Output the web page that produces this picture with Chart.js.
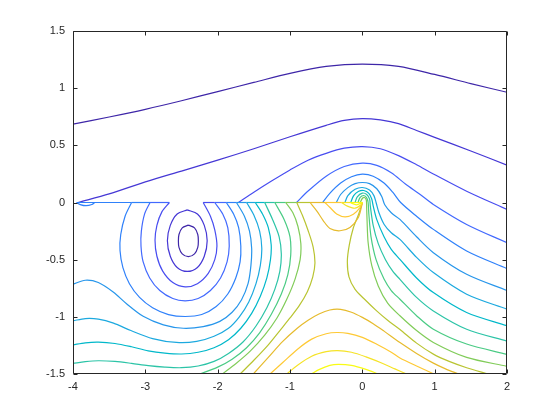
<!DOCTYPE html>
<html>
<head>
<meta charset="utf-8">
<script src="https://cdn.jsdelivr.net/npm/chart.js@4.4.1/dist/chart.umd.min.js"></script>
<style>
  html, body { margin: 0; padding: 0; background: #fff; }
</style>
</head>
<body>
<canvas id="contourChart" width="560" height="420"></canvas>
<script>
// axis ticks
const xTicks = [-4, -3, -2, -1, 0, 1, 2];
const xTickLabels = ["-4", "-3", "-2", "-1", "0", "1", "2"];
const yTicks = [-1.5, -1, -0.5, 0, 0.5, 1, 1.5];
const yTickLabels = ["-1.5", "-1", "-0.5", "0", "0.5", "1", "1.5"];

// contour lines, [x, y] pairs, one array per line
// level 1 (darkest) ... level 16 (yellow)
const arch1 = [[-4,0.686],[-3.5,0.748],[-3,0.815],[-2.5,0.89],[-2,0.97],[-1.5,1.05],[-1,1.13],[-0.5,1.19],[0,1.211],[0.5,1.19],[1,1.12],[1.5,1.04],[2,0.964]];
const ring1 = [[-2.405,-0.198],[-2.32,-0.222],[-2.275,-0.28],[-2.267,-0.336],[-2.275,-0.392],[-2.32,-0.45],[-2.405,-0.474],[-2.49,-0.45],[-2.535,-0.392],[-2.543,-0.336],[-2.535,-0.28],[-2.49,-0.222],[-2.405,-0.198]];

const arch2 = [[-3.93,0],[-3.5,0.075],[-3,0.18],[-2.5,0.275],[-2,0.37],[-1.5,0.47],[-1,0.575],[-0.5,0.675],[-0.25,0.718],[0,0.734],[0.25,0.722],[0.5,0.69],[0.75,0.63],[1,0.57],[1.5,0.45],[2,0.327]];
const ring2 = [[-2.42,-0.065],[-2.28,-0.1],[-2.185,-0.2],[-2.145,-0.334],[-2.185,-0.47],[-2.28,-0.568],[-2.42,-0.603],[-2.56,-0.568],[-2.655,-0.47],[-2.695,-0.334],[-2.655,-0.2],[-2.56,-0.1],[-2.42,-0.065]];

const arch3 = [[-1.714,0],[-1.5,0.09],[-1.25,0.19],[-1,0.285],[-0.75,0.37],[-0.5,0.43],[-0.25,0.475],[0,0.489],[0.25,0.47],[0.5,0.41],[0.75,0.33],[0.982,0.25],[1.442,0.099],[2,-0.061]];
const ring3 = [[-2.668,0],[-2.77,-0.08],[-2.84,-0.2],[-2.866,-0.33],[-2.84,-0.47],[-2.76,-0.6],[-2.62,-0.7],[-2.45,-0.738],[-2.28,-0.71],[-2.13,-0.62],[-2.04,-0.5],[-2.01,-0.38],[-2.04,-0.24],[-2.1,-0.12],[-2.2,0]];

const arch4 = [[-0.91,0],[-0.75,0.1],[-0.5,0.23],[-0.25,0.315],[0,0.344],[0.2,0.325],[0.4,0.26],[0.6,0.16],[0.8,0.07],[0.982,-0.017],[1.442,-0.192],[2,-0.352]];
const ring4 = [[-2.935,0],[-3.01,-0.1],[-3.055,-0.25],[-3.06,-0.38],[-3.03,-0.52],[-2.94,-0.66],[-2.8,-0.77],[-2.62,-0.84],[-2.45,-0.86],[-2.27,-0.84],[-2.1,-0.77],[-1.96,-0.66],[-1.87,-0.52],[-1.84,-0.38],[-1.86,-0.22],[-1.93,-0.1],[-2.04,0]];

const arch5 = [[-0.55,0],[-0.45,0.08],[-0.3,0.17],[-0.15,0.225],[0,0.248],[0.15,0.23],[0.3,0.17],[0.42,0.09],[0.53,0],[0.75,-0.12],[0.982,-0.235],[1.442,-0.424],[2,-0.578]];
const ring5 = [[-3.19,0],[-3.28,-0.12],[-3.34,-0.28],[-3.35,-0.42],[-3.31,-0.57],[-3.22,-0.71],[-3.08,-0.83],[-2.9,-0.92],[-2.68,-0.98],[-2.45,-0.997],[-2.22,-0.98],[-2.02,-0.91],[-1.86,-0.8],[-1.75,-0.66],[-1.69,-0.52],[-1.68,-0.38],[-1.71,-0.22],[-1.78,-0.1],[-1.88,0]];
const lens5 = [[-3.95,0],[-3.9,-0.018],[-3.82,-0.028],[-3.74,-0.018],[-3.7,0]];

const arch6 = [[-0.36,0],[-0.3,0.07],[-0.2,0.13],[-0.1,0.165],[0,0.175],[0.1,0.165],[0.2,0.12],[0.27,0.05],[0.31,-0.02],[0.4,-0.09],[0.52,-0.148],[0.75,-0.3],[0.982,-0.439],[1.442,-0.628],[2,-0.77]];
const wave6 = [[-4,-0.715],[-3.83,-0.68],[-3.65,-0.7],[-3.44,-0.785],[-3.26,-0.885],[-3.03,-0.995],[-2.75,-1.07],[-2.475,-1.1],[-2.2,-1.085],[-1.97,-1.04],[-1.8,-0.96],[-1.67,-0.85],[-1.58,-0.71],[-1.54,-0.55],[-1.53,-0.4],[-1.56,-0.25],[-1.63,-0.12],[-1.74,0]];

const arch7 = [[-0.24,0],[-0.2,0.06],[-0.1,0.115],[0,0.131],[0.1,0.11],[0.16,0.06],[0.19,0],[0.23,-0.09],[0.3,-0.19],[0.4,-0.265],[0.52,-0.323],[0.75,-0.48],[0.982,-0.613],[1.442,-0.802],[2,-0.933]];
const wave7 = [[-4,-1.035],[-3.83,-1.015],[-3.65,-1.02],[-3.44,-1.055],[-3.2,-1.12],[-2.9,-1.19],[-2.57,-1.224],[-2.29,-1.215],[-2.05,-1.17],[-1.85,-1.1],[-1.7,-1],[-1.57,-0.87],[-1.47,-0.71],[-1.41,-0.55],[-1.39,-0.4],[-1.42,-0.25],[-1.5,-0.11],[-1.6,0]];

const arch8 = [[-0.16,0],[-0.12,0.06],[-0.05,0.098],[0.02,0.105],[0.09,0.08],[0.13,0.03],[0.15,-0.03],[0.2,-0.15],[0.3,-0.3],[0.4,-0.41],[0.52,-0.497],[0.75,-0.66],[0.982,-0.788],[1.442,-0.962],[2,-1.078]];
const wave8 = [[-4,-1.245],[-3.83,-1.227],[-3.65,-1.221],[-3.42,-1.233],[-3.19,-1.262],[-2.96,-1.297],[-2.73,-1.317],[-2.5,-1.325],[-2.27,-1.31],[-2.05,-1.27],[-1.85,-1.2],[-1.68,-1.1],[-1.53,-0.97],[-1.41,-0.82],[-1.32,-0.66],[-1.27,-0.5],[-1.26,-0.37],[-1.3,-0.22],[-1.38,-0.1],[-1.48,0]];

const arch9 = [[-0.1,0],[-0.07,0.05],[0,0.082],[0.06,0.07],[0.1,0.03],[0.11,-0.03],[0.15,-0.2],[0.22,-0.36],[0.32,-0.5],[0.42,-0.6],[0.52,-0.672],[0.75,-0.83],[0.982,-0.948],[1.442,-1.108],[2,-1.212]];
const wave9 = [[-4,-1.407],[-3.83,-1.392],[-3.65,-1.384],[-3.42,-1.39],[-3.19,-1.407],[-2.96,-1.427],[-2.73,-1.44],[-2.5,-1.445],[-2.27,-1.43],[-2.05,-1.39],[-1.85,-1.32],[-1.65,-1.22],[-1.47,-1.08],[-1.32,-0.92],[-1.21,-0.76],[-1.14,-0.6],[-1.12,-0.45],[-1.15,-0.3],[-1.24,-0.15],[-1.35,0]];

const arch10 = [[-0.06,0],[-0.03,0.045],[0.02,0.061],[0.06,0.04],[0.08,0],[0.09,-0.1],[0.12,-0.3],[0.19,-0.5],[0.3,-0.67],[0.4,-0.77],[0.52,-0.846],[0.75,-0.99],[0.982,-1.108],[1.442,-1.238],[2,-1.328]];
const foot10 = [[-2.244,-1.5],[-2,-1.44],[-1.8,-1.37],[-1.6,-1.27],[-1.42,-1.14],[-1.26,-0.98],[-1.12,-0.8],[-1.03,-0.63],[-0.99,-0.46],[-1,-0.3],[-1.08,-0.15],[-1.21,0]];

const arch11 = [[-0.03,0],[0,0.035],[0.03,0.044],[0.055,0.02],[0.06,-0.05],[0.065,-0.15],[0.08,-0.35],[0.13,-0.55],[0.22,-0.73],[0.35,-0.88],[0.52,-0.991],[0.75,-1.12],[0.982,-1.224],[1.442,-1.355],[2,-1.433]];
const foot11 = [[-1.935,-1.5],[-1.75,-1.41],[-1.55,-1.3],[-1.35,-1.16],[-1.18,-1.01],[-1.04,-0.84],[-0.93,-0.67],[-0.86,-0.5],[-0.85,-0.36],[-0.89,-0.21],[-0.96,-0.09],[-1.06,0]];

const saddleLeft = [[-1.69,-1.5],[-1.5,-1.38],[-1.3,-1.245],[-1.14,-1.12],[-1,-1.01],[-0.87,-0.9],[-0.76,-0.78],[-0.685,-0.65],[-0.655,-0.53],[-0.68,-0.39],[-0.75,-0.245],[-0.83,-0.11],[-0.907,0]];
const saddleRight = [[0,0],[-0.05,-0.1],[-0.124,-0.221],[-0.18,-0.37],[-0.207,-0.512],[-0.185,-0.65],[-0.1,-0.76],[0.02,-0.84],[0.198,-0.948],[0.35,-1.03],[0.52,-1.11],[0.75,-1.23],[0.982,-1.326],[1.2,-1.39],[1.442,-1.445],[1.742,-1.5]];

const bowl13 = [[-1.507,-1.5],[-1.3,-1.355],[-1.1,-1.215],[-0.9,-1.1],[-0.75,-1.03],[-0.6,-0.975],[-0.45,-0.94],[-0.3,-0.935],[-0.15,-0.96],[0,-1.005],[0.15,-1.06],[0.3,-1.125],[0.52,-1.225],[0.75,-1.32],[0.982,-1.405],[1.15,-1.455],[1.33,-1.5]];
const cup13 = [[-0.723,0],[-0.631,-0.073],[-0.539,-0.16],[-0.447,-0.228],[-0.309,-0.247],[-0.171,-0.218],[-0.055,-0.131],[-0.009,-0.029],[0,0]];

const bowl14 = [[-1.276,-1.5],[-1.1,-1.4],[-0.9,-1.285],[-0.7,-1.195],[-0.5,-1.148],[-0.35,-1.137],[-0.2,-1.145],[0,-1.18],[0.2,-1.24],[0.4,-1.31],[0.52,-1.36],[0.75,-1.43],[0.991,-1.5]];
const cup14 = [[-0.516,0],[-0.447,-0.044],[-0.355,-0.1],[-0.239,-0.125],[-0.124,-0.102],[-0.032,-0.044],[0,0]];

const bowl15 = [[-1.046,-1.5],[-0.9,-1.425],[-0.7,-1.345],[-0.5,-1.305],[-0.34,-1.295],[-0.15,-1.31],[0.05,-1.35],[0.25,-1.4],[0.45,-1.455],[0.613,-1.5]];
const cup15 = [[-0.286,0],[-0.217,-0.029],[-0.101,-0.05],[-0.018,-0.02],[0,0]];

const bowl16 = [[-0.7,-1.5],[-0.6,-1.462],[-0.45,-1.425],[-0.33,-1.416],[-0.15,-1.425],[0.05,-1.46],[0.221,-1.5]];
const cup16 = [[-0.17,0],[-0.08,-0.02],[0,0]];

// stacked lines along y = 0: break points and the level shown on each piece
const cutLeftX = [-3.95, -3.19, -2.935, -2.668];
const cutLeftLevel = [5, 5, 4];
const cutRightX = [-2.2, -2.04, -1.88, -1.74, -1.6, -1.48, -1.35, -1.21, -1.06, -0.907, -0.723, -0.516, -0.286, -0.17, 0];
const cutRightLevel = [3, 4, 5, 6, 7, 8, 9, 10, 11, 12, 13, 14, 15, 16];

// parula colours, one per level
const levelColors = ['#3e26a8','#4537d5','#484df0','#4269fe','#2f81fa','#2796eb','#1ca9df','#01b8ca',
                     '#2cc4a7','#4acb84','#81cc59','#b9c431','#e6bb2d','#fec934','#f5e327','#f9fb15'];

var contourLines = [
    [1, arch1], [1, ring1],
    [2, arch2], [2, ring2],
    [3, arch3], [3, ring3],
    [4, arch4], [4, ring4],
    [5, arch5], [5, ring5], [5, lens5],
    [6, arch6], [6, wave6],
    [7, arch7], [7, wave7],
    [8, arch8], [8, wave8],
    [9, arch9], [9, wave9],
    [10, arch10], [10, foot10],
    [11, arch11], [11, foot11],
    [12, saddleLeft], [12, saddleRight],
    [13, bowl13], [13, cup13],
    [14, bowl14], [14, cup14],
    [15, bowl15], [15, cup15],
    [16, bowl16], [16, cup16],
];

function lineSet(pts, level, tension) {
    return {
        data: pts.map((p) => ({ x: p[0], y: p[1] })),
        showLine: true,
        pointRadius: 0,
        borderWidth: 1.2,
        borderColor: levelColors[level - 1],
        tension: tension,
        fill: false,
    };
}

var datasets = contourLines.map((c) => lineSet(c[1], c[0], 0.3));
for (let i = 0; i < cutLeftLevel.length; i++) {
    datasets.push(lineSet([[cutLeftX[i], 0], [cutLeftX[i + 1], 0]], cutLeftLevel[i], 0));
}
for (let i = 0; i < cutRightLevel.length; i++) {
    datasets.push(lineSet([[cutRightX[i], 0], [cutRightX[i + 1], 0]], cutRightLevel[i], 0));
}
// chart.js paints dataset 0 last, so reverse to get higher levels on top
datasets.reverse();

// box with inward ticks on all four sides
var framePlugin = {
    id: "frame",
    afterDatasetsDraw(chart) {
        var ctx = chart.ctx;
        var a = chart.chartArea;
        var sx = chart.scales.x, sy = chart.scales.y;
        var l = Math.round(a.left) + 0.5, r = Math.round(a.right) - 0.5;
        var t = Math.round(a.top) + 0.5, b = Math.round(a.bottom) - 0.5;
        ctx.save();
        ctx.strokeStyle = "#262626";
        ctx.lineWidth = 1;
        ctx.beginPath();
        ctx.moveTo(l, t); ctx.lineTo(r, t); ctx.lineTo(r, b); ctx.lineTo(l, b); ctx.closePath();
        xTicks.forEach((v) => {
            var px = Math.round(sx.getPixelForValue(v)) + 0.5;
            ctx.moveTo(px, b); ctx.lineTo(px, b - 4);
            ctx.moveTo(px, t); ctx.lineTo(px, t + 4);
        });
        yTicks.forEach((v) => {
            var py = Math.round(sy.getPixelForValue(v)) + 0.5;
            ctx.moveTo(l, py); ctx.lineTo(l + 4, py);
            ctx.moveTo(r, py); ctx.lineTo(r - 4, py);
        });
        ctx.stroke();
        ctx.restore();
    },
};

var tickFont = { family: "'Liberation Sans', Arial, sans-serif", size: 11 };

new Chart(document.getElementById("contourChart").getContext("2d"), {
    type: "scatter",
    data: { datasets: datasets },
    options: {
        responsive: false,
        animation: false,
        devicePixelRatio: 1,
        layout: { padding: { left: 0, right: 53, top: 31, bottom: 0 } },
        plugins: { legend: { display: false }, tooltip: { enabled: false } },
        scales: {
            x: {
                type: "linear",
                min: -4,
                max: 2,
                afterBuildTicks: (s) => { s.ticks = xTicks.map((v) => ({ value: v })); },
                afterFit: (s) => { s.height = 46; },
                grid: { display: false, drawTicks: false },
                border: { display: false },
                ticks: {
                    color: "#262626", font: tickFont, padding: 6, maxRotation: 0, autoSkip: false,
                    callback: (v) => xTickLabels[xTicks.indexOf(v)],
                },
            },
            y: {
                type: "linear",
                min: -1.5,
                max: 1.5,
                afterBuildTicks: (s) => { s.ticks = yTicks.map((v) => ({ value: v })); },
                afterFit: (s) => { s.width = 73; },
                grid: { display: false, drawTicks: false },
                border: { display: false },
                ticks: {
                    color: "#262626", font: tickFont, padding: 8, autoSkip: false,
                    callback: (v) => yTickLabels[yTicks.indexOf(v)],
                },
            },
        },
    },
    plugins: [framePlugin],
});
</script>
</body>
</html>
